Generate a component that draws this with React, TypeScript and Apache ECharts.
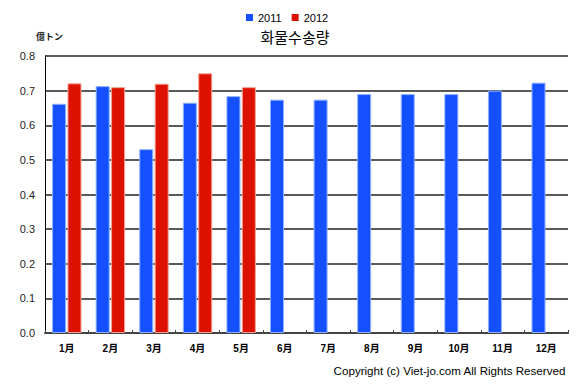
import React, { useEffect, useRef } from "react";
import * as echarts from "echarts";

const months = ["1月", "2月", "3月", "4月", "5月", "6月", "7月", "8月", "9月", "10月", "11月", "12月"];
const series2011 = [0.662, 0.713, 0.531, 0.665, 0.684, 0.674, 0.674, 0.69, 0.69, 0.69, 0.7, 0.723];
const series2012: (number | null)[] = [0.721, 0.71, 0.72, 0.75, 0.71, null, null, null, null, null, null, null];
const yTicks = [0, 0.1, 0.2, 0.3, 0.4, 0.5, 0.6, 0.7, 0.8];

const FONT = "Arial, 'Liberation Sans', 'Noto Sans CJK JP', sans-serif";

export default function App() {
  const ref = useRef<HTMLDivElement>(null);
  useEffect(() => {
    document.body.style.margin = "0";
    const chart = echarts.init(ref.current!, null, { renderer: "svg" });
    chart.setOption({
      animation: false,
      backgroundColor: "#ffffff",
      title: {
        text: "화물수송량",
        left: 290,
        textAlign: "center",
        top: 24,
        textStyle: { fontSize: 15, fontWeight: "normal", color: "#000", fontFamily: "'Noto Sans CJK KR', sans-serif" },
      },
      legend: {
        left: 241,
        top: 7,
        itemWidth: 7,
        itemHeight: 7,
        itemGap: 10,
        icon: "rect",
        itemStyle: { borderWidth: 0 },
        textStyle: { fontSize: 11, color: "#000", fontFamily: FONT },
        data: ["2011", "2012"],
      },
      graphic: [
        {
          type: "text",
          left: 36,
          top: 32,
          style: { text: "億トン", fontSize: 9, fontWeight: "bold", fill: "#222", fontFamily: "'Noto Sans CJK JP', sans-serif" },
        },
        {
          type: "text",
          right: 14,
          top: 365,
          style: { text: "Copyright (c) Viet-jo.com All Rights Reserved", fontSize: 11.6, fill: "#000", fontFamily: FONT },
        },
      ],
      grid: { left: 45, right: 12, top: 56, bottom: 52, containLabel: false },
      xAxis: {
        type: "category",
        data: months,
        axisLine: { show: true, lineStyle: { color: "#444", width: 2 } },
        axisTick: { show: true, inside: true, length: 3, lineStyle: { color: "#444" } },
        axisLabel: { fontSize: 10, fontWeight: "bold", color: "#000", margin: 10, fontFamily: FONT },
      },
      yAxis: {
        type: "value",
        min: yTicks[0],
        max: yTicks[yTicks.length - 1],
        interval: 0.1,
        axisLine: { show: true, lineStyle: { color: "#000", width: 1 } },
        axisTick: { show: false },
        axisLabel: {
          fontSize: 11,
          color: "#222",
          margin: 10,
          fontFamily: FONT,
          formatter: (v: number) => v.toFixed(1),
        },
        splitLine: { show: true, lineStyle: { color: "#222", width: 1.5 } },
      },
      series: [
        {
          name: "2011",
          type: "bar",
          data: series2011,
          barWidth: 14,
          barGap: "10%",
          itemStyle: { color: "#1450ff", borderColor: "#8fb0ff", borderWidth: 1 },
        },
        {
          name: "2012",
          type: "bar",
          data: series2012,
          barWidth: 14,
          barGap: "10%",
          itemStyle: { color: "#dd1100", borderColor: "#f4a090", borderWidth: 1 },
        },
      ],
    });
    return () => chart.dispose();
  }, []);
  return <div ref={ref} style={{ position: "absolute", left: 0, top: 0, width: 580, height: 385 }} />;
}
